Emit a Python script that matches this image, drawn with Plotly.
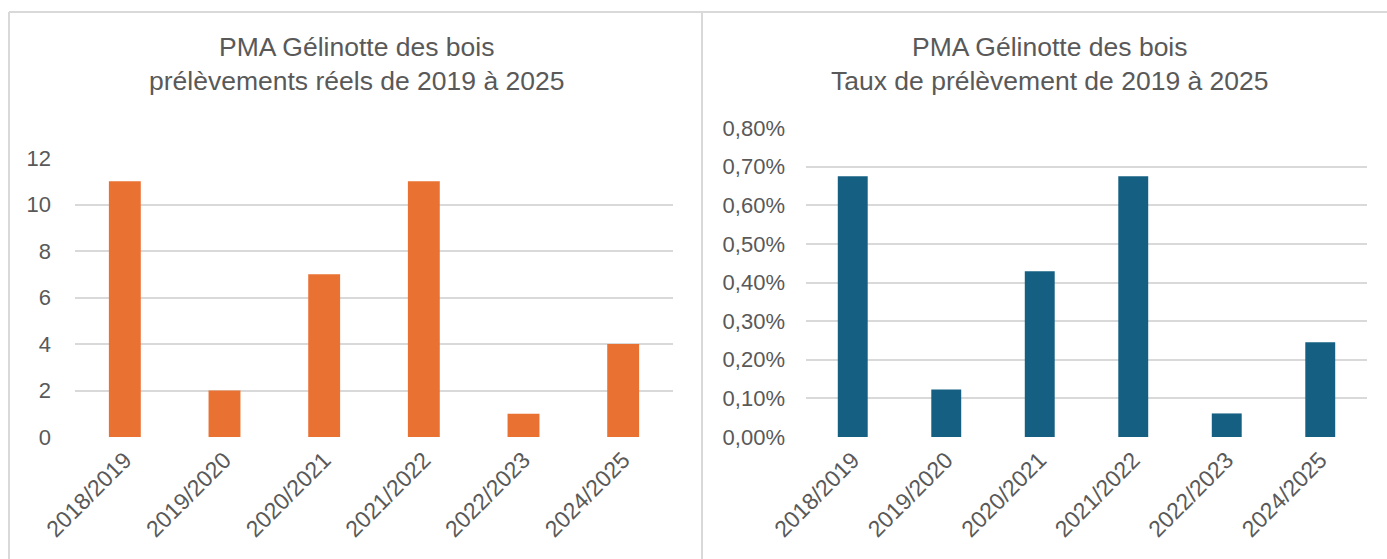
import plotly.graph_objects as go

# Seasons and harvest figures
saisons = ["2018/2019", "2019/2020", "2020/2021", "2021/2022", "2022/2023", "2024/2025"]
prelevements = [11, 2, 7, 11, 1, 4]
taux_pct = [0.675, 0.123, 0.429, 0.675, 0.061, 0.245]  # in %
taux = [v / 100 for v in taux_pct]

W, H = 1387, 559
ORANGE = "#E97132"
BLUE = "#156082"
TXT = "#595959"
GRID = "#D9D9D9"
FONT = "Liberation Sans, Arial, sans-serif"


def px(x):
    return x / W


def py(y):
    return 1 - y / H


fig = go.Figure()
fig.add_trace(go.Bar(x=saisons, y=prelevements, marker_color=ORANGE,
                     xaxis="x", yaxis="y", showlegend=False, hoverinfo="x+y"))
fig.add_trace(go.Bar(x=saisons, y=taux, marker_color=BLUE,
                     xaxis="x2", yaxis="y2", showlegend=False, hoverinfo="x+y"))

xcommon = dict(showgrid=False, zeroline=False, showline=False, ticks="",
               tickangle=-45, tickfont=dict(size=23, color=TXT, family=FONT),
               fixedrange=True, automargin=False, ticklabelstandoff=4)
ycommon = dict(showgrid=True, gridcolor=GRID, gridwidth=1.5, zeroline=False,
               showline=False, ticks="", tickfont=dict(size=22, color=TXT, family=FONT),
               fixedrange=True, automargin=False)

fig.update_layout(
    template="none",
    width=W, height=H,
    margin=dict(l=0, r=0, t=0, b=0, autoexpand=False),
    paper_bgcolor="white", plot_bgcolor="white",
    bargap=0.68,
    separators=", ",
    font=dict(family=FONT, color=TXT),
    xaxis=dict(domain=[px(75), px(673)], anchor="y", **xcommon),
    yaxis=dict(domain=[py(437), py(158)], range=[0, 12], dtick=2, anchor="x",
               ticklabelstandoff=23, **ycommon),
    xaxis2=dict(domain=[px(806), px(1367)], anchor="y2", **xcommon),
    yaxis2=dict(domain=[py(437), py(128)], range=[0, 0.008], dtick=0.001,
                tickformat=".2%", anchor="x2", ticklabelstandoff=20, **ycommon),
)

# Panel frames
line = dict(color=GRID, width=2)
fig.add_shape(type="line", xref="paper", yref="paper", x0=px(9), x1=1, y0=py(12), y1=py(12), line=line)
fig.add_shape(type="line", xref="paper", yref="paper", x0=px(9), x1=px(9), y0=py(12), y1=0, line=line)
fig.add_shape(type="line", xref="paper", yref="paper", x0=px(702), x1=px(702), y0=py(12), y1=0, line=line)

# Chart titles
fig.add_annotation(xref="paper", yref="paper", x=px(356), y=py(64), showarrow=False,
                   xanchor="center", yanchor="middle",
                   text="PMA Gélinotte des bois<br>prélèvements réels de 2019 à 2025",
                   font=dict(size=26.5, color=TXT, family=FONT), align="center")
fig.add_annotation(xref="paper", yref="paper", x=px(1050), y=py(64), showarrow=False,
                   xanchor="center", yanchor="middle",
                   text="PMA Gélinotte des bois<br>Taux de prélèvement de 2019 à 2025",
                   font=dict(size=26.5, color=TXT, family=FONT), align="center")

fig.write_html("out.html")
